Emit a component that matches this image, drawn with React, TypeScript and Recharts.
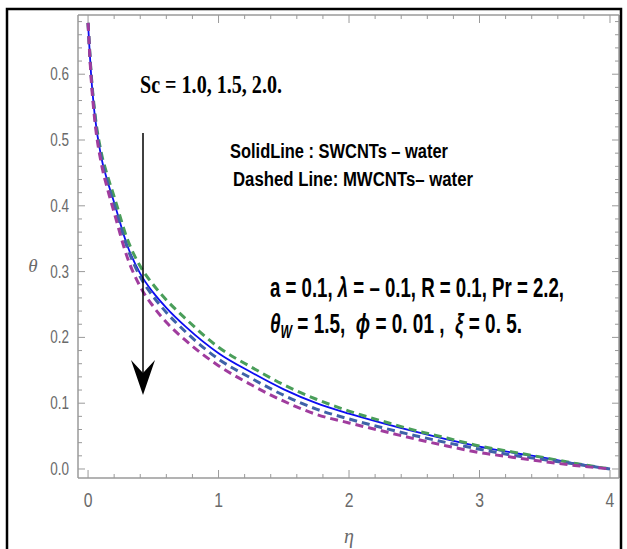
import React from 'react';
import { LineChart, Line, XAxis, YAxis } from 'recharts';

// eta grid
const eta = [0, 0.025, 0.05, 0.1, 0.15, 0.2, 0.3, 0.4, 0.5, 0.6, 0.75, 1.0, 1.25, 1.5, 1.75, 2.0, 2.25, 2.5, 2.75, 3.0, 3.25, 3.5, 3.75, 4.0];

// SWCNTs - water (solid)
const solidSW = [0.678, 0.595, 0.54, 0.475, 0.437, 0.405, 0.34, 0.297, 0.268, 0.245, 0.216, 0.176, 0.147, 0.121, 0.1, 0.084, 0.07, 0.057, 0.045, 0.034, 0.025, 0.017, 0.008, 0.0];
// MWCNTs - water, Sc = 1.0, 1.5, 2.0 (dashed)
const dashSc10 = [0.678, 0.598, 0.545, 0.482, 0.445, 0.414, 0.35, 0.308, 0.28, 0.257, 0.228, 0.185, 0.155, 0.128, 0.106, 0.088, 0.073, 0.059, 0.047, 0.035, 0.026, 0.017, 0.008, 0.0];
const dashSc15 = [0.678, 0.595, 0.54, 0.475, 0.435, 0.402, 0.337, 0.292, 0.262, 0.238, 0.208, 0.167, 0.138, 0.112, 0.091, 0.076, 0.063, 0.051, 0.04, 0.03, 0.021, 0.014, 0.007, 0.0];
const dashSc20 = [0.678, 0.59, 0.533, 0.466, 0.425, 0.39, 0.322, 0.277, 0.247, 0.223, 0.195, 0.157, 0.128, 0.103, 0.083, 0.07, 0.058, 0.046, 0.035, 0.025, 0.018, 0.011, 0.005, 0.0];

const xTicks: number[] = [];
for (let i = 0; i <= 20; i++) xTicks.push(i * 0.2);
const yTicks: number[] = [];
for (let i = 0; i <= 34; i++) yTicks.push(i * 0.02);

const rows = eta.map((e, i) => ({
    eta: e,
    sw: solidSW[i],
    mw1: dashSc10[i],
    mw2: dashSc15[i],
    mw3: dashSc20[i],
}));

const FRAME = '#9a9a9a';
const LABEL = '#6a6a6a';
const NARROW = '"Liberation Sans Narrow", "Arial Narrow", "Liberation Sans", sans-serif';

const isInt = (v: number) => Math.abs(v - Math.round(v)) < 1e-6;
const isTenth = (v: number) => Math.abs(v * 10 - Math.round(v * 10)) < 1e-6;

const BottomTick = ({ x, y, payload }: any) => {
    const major = isInt(payload.value);
    return (
        <g>
            <line x1={x} x2={x} y1={y} y2={y - (major ? 8 : 4)} stroke={FRAME} strokeWidth={1} />
            {major && (
                <g transform={`translate(${x},${y + 29}) scale(0.75,1)`}>
                    <text x={0} y={0} textAnchor="middle" fontFamily={NARROW} fontSize={21} fill={LABEL}>
                        {String(Math.round(payload.value))}
                    </text>
                </g>
            )}
        </g>
    );
};

const TopTick = ({ x, y, payload }: any) => {
    const major = isInt(payload.value);
    return <line x1={x} x2={x} y1={y} y2={y + (major ? 8 : 4)} stroke={FRAME} strokeWidth={1} />;
};

const LeftTick = ({ x, y, payload }: any) => {
    const major = isTenth(payload.value);
    return (
        <g>
            <line x1={x} x2={x + (major ? 7 : 4)} y1={y} y2={y} stroke={FRAME} strokeWidth={1} />
            {major && (
                <g transform={`translate(${x - 9},${y + 6}) scale(0.75,1)`}>
                    <text x={0} y={0} textAnchor="end" fontFamily={NARROW} fontSize={18} fill={LABEL}>
                        {payload.value.toFixed(1)}
                    </text>
                </g>
            )}
        </g>
    );
};

const RightTick = ({ x, y, payload }: any) => {
    const major = isTenth(payload.value);
    return <line x1={x} x2={x - (major ? 7 : 4)} y1={y} y2={y} stroke={FRAME} strokeWidth={1} />;
};

export default function App() {
    const txt = { fontFamily: '"Liberation Sans", Arial, sans-serif', fontWeight: 700, fill: '#000', whiteSpace: 'pre' as const };
    return (
        <div style={{ position: 'absolute', left: 0, top: 0, width: 627, height: 549, background: '#fff' }}>
            <LineChart width={627} height={549} data={rows} margin={{ top: 5, right: 3, bottom: 51, left: 8 }}>
                <XAxis
                    xAxisId="b"
                    dataKey="eta"
                    type="number"
                    domain={[-0.077, 4.069]}
                    allowDataOverflow
                    ticks={xTicks}
                    interval={0}
                    tick={<BottomTick />}
                    tickLine={false}
                    tickSize={0}
                    tickMargin={0}
                    height={20}
                    axisLine={{ stroke: FRAME, strokeWidth: 1.5 }}
                />
                <XAxis
                    xAxisId="t"
                    orientation="top"
                    dataKey="eta"
                    type="number"
                    domain={[-0.077, 4.069]}
                    allowDataOverflow
                    ticks={xTicks}
                    interval={0}
                    tick={<TopTick />}
                    tickLine={false}
                    tickSize={0}
                    tickMargin={0}
                    height={10}
                    axisLine={{ stroke: FRAME, strokeWidth: 1.5 }}
                />
                <YAxis
                    yAxisId="l"
                    type="number"
                    domain={[-0.0137, 0.69]}
                    allowDataOverflow
                    ticks={yTicks}
                    interval={0}
                    tick={<LeftTick />}
                    tickLine={false}
                    tickSize={0}
                    tickMargin={0}
                    width={70}
                    axisLine={{ stroke: FRAME, strokeWidth: 1.5 }}
                />
                <YAxis
                    yAxisId="r"
                    orientation="right"
                    type="number"
                    domain={[-0.0137, 0.69]}
                    allowDataOverflow
                    ticks={yTicks}
                    interval={0}
                    tick={<RightTick />}
                    tickLine={false}
                    tickSize={0}
                    tickMargin={0}
                    width={5}
                    axisLine={{ stroke: FRAME, strokeWidth: 1.5 }}
                />
                <Line xAxisId="b" yAxisId="l" type="monotone" dataKey="sw" stroke="#0c0cf2" strokeWidth={1.8} dot={false} isAnimationActive={false} />
                <Line xAxisId="b" yAxisId="l" type="monotone" dataKey="mw1" stroke="#4a9e5a" strokeWidth={3} strokeDasharray="8 5" dot={false} isAnimationActive={false} />
                <Line xAxisId="b" yAxisId="l" type="monotone" dataKey="mw2" stroke="#3f62a8" strokeWidth={3} strokeDasharray="8 5" dot={false} isAnimationActive={false} />
                <Line xAxisId="b" yAxisId="l" type="monotone" dataKey="mw3" stroke="#a03c9e" strokeWidth={3} strokeDasharray="8 5" dot={false} isAnimationActive={false} />
            </LineChart>

            <svg width={627} height={549} style={{ position: 'absolute', left: 0, top: 0, pointerEvents: 'none' }}>
                {/* outer border */}
                <rect x={7} y={9} width={614} height={560} fill="none" stroke="#000" strokeWidth={2.5} />

                {/* axis labels */}
                <text x={33} y={272} textAnchor="middle" fontFamily="'Liberation Serif', serif" fontStyle="italic" fontSize={19} fill={LABEL}>θ</text>
                <text x={349} y={543} textAnchor="middle" fontFamily="'Liberation Serif', serif" fontStyle="italic" fontSize={20} fill={LABEL}>η</text>

                {/* annotation */}
                <text x={140} y={93} fontFamily="'Liberation Serif', serif" fontWeight={700} fontSize={26} textLength={142} lengthAdjust="spacingAndGlyphs" style={{ whiteSpace: 'pre' }}>Sc = 1.0, 1.5, 2.0.</text>
                <text x={230} y={158} fontSize={20} textLength={218} lengthAdjust="spacingAndGlyphs" style={txt}>SolidLine : SWCNTs – water</text>
                <text x={233} y={186} fontSize={20} textLength={240} lengthAdjust="spacingAndGlyphs" style={txt}>Dashed Line: MWCNTs– water</text>
                <text x={270} y={297} fontSize={28} textLength={294} lengthAdjust="spacingAndGlyphs" style={txt}>a = 0.1, <tspan fontStyle="italic">λ</tspan> = – 0.1, R = 0.1, Pr = 2.2,</text>
                <text x={270} y={333} fontSize={28} textLength={252} lengthAdjust="spacingAndGlyphs" style={txt}>
                    <tspan fontStyle="italic">θ</tspan>
                    <tspan fontStyle="italic" fontSize={18} dy={5}>W</tspan>
                    <tspan dy={-5}> = 1.5,  </tspan>
                    <tspan fontStyle="italic">ϕ</tspan>
                    <tspan> = 0. 01 ,  </tspan>
                    <tspan fontStyle="italic">ξ</tspan>
                    <tspan> = 0. 5.</tspan>
                </text>

                {/* arrow */}
                <line x1={143} y1={133} x2={143} y2={378} stroke="#000" strokeWidth={1.5} />
                <polygon points="143,395 155,360 143,373 131,360" fill="#000" />
            </svg>
        </div>
    );
}
